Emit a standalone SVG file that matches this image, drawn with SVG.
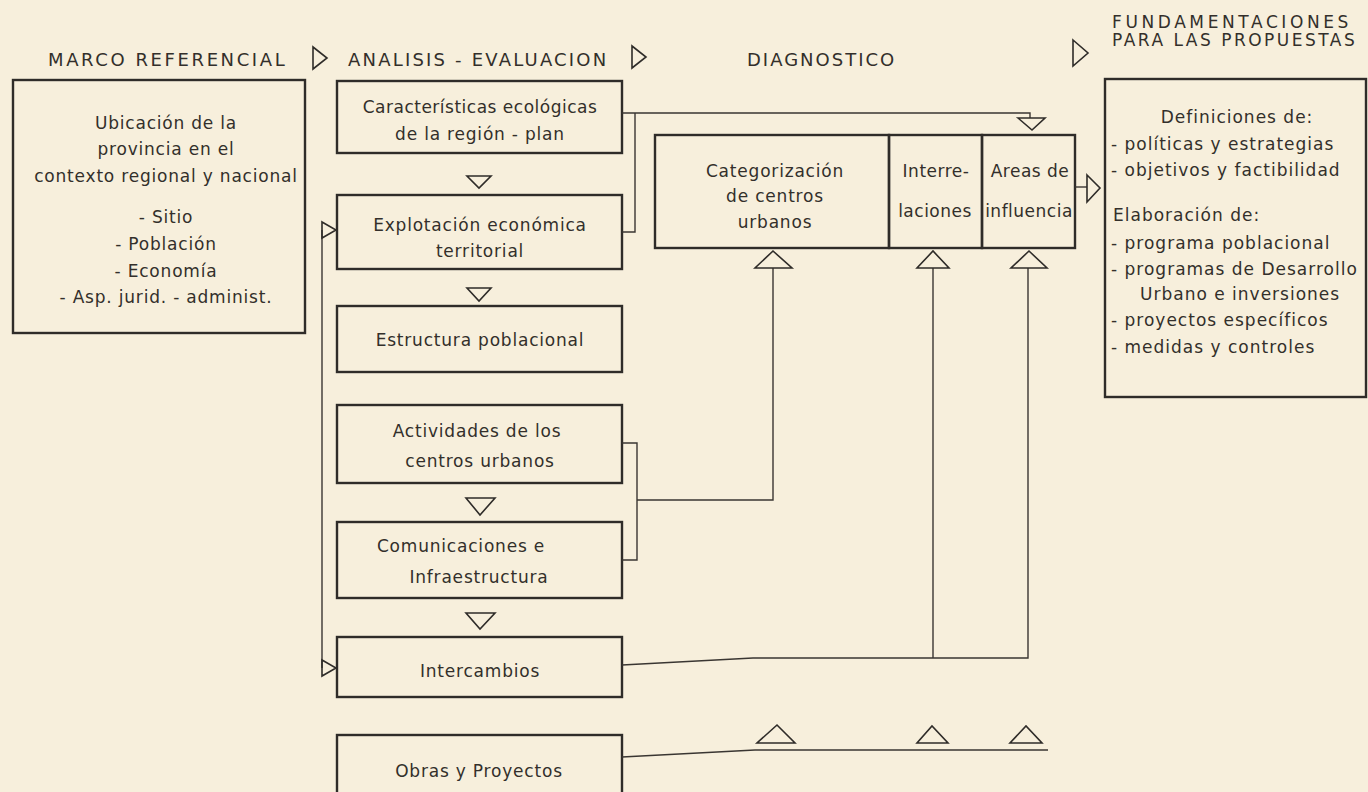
<svg xmlns="http://www.w3.org/2000/svg" width="1368" height="792" viewBox="0 0 1368 792">
<style>
.bg{fill:#f7efdc}
.box{fill:none;stroke:#2f2c29;stroke-width:2.4}
.ln{fill:none;stroke:#3a3632;stroke-width:1.4}
.tri{fill:none;stroke:#2f2c29;stroke-width:1.6;stroke-linejoin:miter}
text{font-family:"DejaVu Sans","Liberation Sans",sans-serif;font-size:17px;letter-spacing:0.8px;fill:#332f2b}
.c{text-anchor:middle}
.h{font-size:18px}
.h2{font-size:17px}
.r{letter-spacing:1px}
.n{letter-spacing:0.5px}
</style>
<rect class="bg" x="0" y="0" width="1368" height="792"/>

<g id="headers">
<text class="h" x="48" y="66" style="letter-spacing:2.6px">MARCO REFERENCIAL</text>
<text class="h" x="348" y="66" style="letter-spacing:2.2px">ANALISIS - EVALUACION</text>
<text class="h" x="747" y="66" style="letter-spacing:2px">DIAGNOSTICO</text>
<text class="h2" x="1112" y="28" style="letter-spacing:3.6px">FUNDAMENTACIONES</text>
<text class="h2" x="1112" y="46" style="letter-spacing:2.5px">PARA LAS PROPUESTAS</text>
<polygon class="tri" points="313,47 327,58 313,69"/>
<polygon class="tri" points="632,46 646,57 632,68"/>
<polygon class="tri" points="1073,40 1088,53 1073,66"/>
</g>

<g id="marco">
<rect class="box" x="13" y="80" width="292" height="253"/>
<text class="c" x="166" y="129">Ubicación de la</text>
<text class="c" x="166" y="155">provincia en el</text>
<text class="c" x="166" y="182">contexto regional y nacional</text>
<text class="c" x="166" y="223">- Sitio</text>
<text class="c" x="166" y="250">- Población</text>
<text class="c" x="166" y="277">- Economía</text>
<text class="c" x="166" y="303">- Asp. jurid. - administ.</text>
</g>

<g id="caracteristicas">
<rect class="box" x="337" y="81" width="285" height="72"/>
<text class="c n" x="480" y="113">Características ecológicas</text>
<text class="c" x="480" y="140">de la región - plan</text>
</g>
<g id="explotacion">
<rect class="box" x="337" y="195" width="285" height="74"/>
<text class="c" x="480" y="231">Explotación económica</text>
<text class="c" x="480" y="257">territorial</text>
</g>
<g id="estructura">
<rect class="box" x="337" y="306" width="285" height="66"/>
<text class="c" x="480" y="346">Estructura poblacional</text>
</g>
<g id="actividades">
<rect class="box" x="337" y="405" width="285" height="78"/>
<text class="c" x="477" y="437">Actividades de los</text>
<text class="c" x="480" y="467">centros urbanos</text>
</g>
<g id="comunicaciones">
<rect class="box" x="337" y="522" width="285" height="76"/>
<text class="c" x="461" y="552">Comunicaciones e</text>
<text class="c" x="479" y="583">Infraestructura</text>
</g>
<g id="intercambios">
<rect class="box" x="337" y="637" width="285" height="60"/>
<text class="c" x="480" y="677">Intercambios</text>
</g>
<g id="obras">
<rect class="box" x="337" y="735" width="285" height="70"/>
<text class="c" x="479" y="777">Obras y Proyectos</text>
</g>

<g id="categorizacion">
<rect class="box" x="655" y="135" width="234" height="113"/>
<text class="c" x="775" y="177">Categorización</text>
<text class="c" x="775" y="202">de centros</text>
<text class="c" x="775" y="228">urbanos</text>
</g>
<g id="interrelaciones">
<rect class="box" x="889" y="135" width="93" height="113"/>
<text class="c n" x="936" y="177">Interre-</text>
<text class="c n" x="935" y="217">laciones</text>
</g>
<g id="areas">
<rect class="box" x="982" y="135" width="93" height="113"/>
<text class="c n" x="1030" y="177">Areas de</text>
<text class="c n" x="1029" y="217">influencia</text>
</g>

<g id="fundamentaciones">
<rect class="box" x="1105" y="79" width="261" height="318"/>
<text class="c r" x="1237" y="123">Definiciones de:</text>
<text class="r" x="1111" y="150">- políticas y estrategias</text>
<text class="r" x="1111" y="176">- objetivos y factibilidad</text>
<text class="r" x="1113" y="221">Elaboración  de:</text>
<text class="r" x="1111" y="249">- programa poblacional</text>
<text class="r" x="1111" y="275">- programas de Desarrollo</text>
<text class="r" x="1140" y="300">Urbano e inversiones</text>
<text class="r" x="1111" y="326">- proyectos específicos</text>
<text class="r" x="1111" y="353">- medidas y controles</text>
</g>

<g id="connectors">
<path class="ln" d="M622,113 H1030 V118"/>
<path class="ln" d="M622,232 H635 V113"/>
<path class="ln" d="M622,443 H637 V560 H622"/>
<path class="ln" d="M637,500 H773 V268"/>
<path class="ln" d="M622,665 L753,658 H1028 V268"/>
<path class="ln" d="M933,658 V268"/>
<path class="ln" d="M622,757 L755,750 H1048"/>
<path class="ln" d="M322,230 V668"/>
<path class="ln" d="M1075,187 H1087"/>
<polygon class="tri" points="467,176 491,176 479,188"/>
<polygon class="tri" points="467,288 491,288 479,301"/>
<polygon class="tri" points="466,498 495,498 480,515"/>
<polygon class="tri" points="466,613 495,613 480,629"/>
<polygon class="tri" points="1018,118 1045,118 1032,130"/>
<polygon class="tri" points="755,268 792,268 773,251"/>
<polygon class="tri" points="917,268 949,268 933,251"/>
<polygon class="tri" points="1011,268 1047,268 1029,251"/>
<polygon class="tri" points="757,743 795,743 777,725"/>
<polygon class="tri" points="917,743 948,743 932,726"/>
<polygon class="tri" points="1010,743 1042,743 1026,726"/>
<polygon class="tri" points="322,222 336,230 322,238"/>
<polygon class="tri" points="322,660 336,668 322,676"/>
<polygon class="tri" points="1087,175 1100,188 1087,202"/>
</g>
</svg>
